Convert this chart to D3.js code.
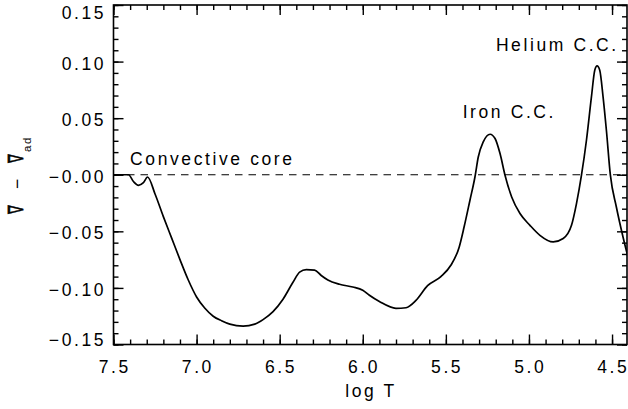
<!DOCTYPE html>
<html>
<head>
<meta charset="utf-8">
<script src="https://cdn.jsdelivr.net/npm/d3@7"></script>
<style>
  html, body { margin: 0; padding: 0; background: #fff; }
  svg { display: block; }
  text { font-family: "Liberation Sans", Arial, sans-serif; fill: #000; }
</style>
</head>
<body>
<svg id="chart" width="628" height="409"></svg>
<script>
// Superadiabatic gradient profile through the stellar model
const logT = [7.50, 7.41, 7.38, 7.35, 7.32, 7.295, 7.25, 7.20, 7.15, 7.10, 7.05, 7.00,
  6.95, 6.90, 6.85, 6.80, 6.72, 6.65, 6.60, 6.54, 6.48, 6.42, 6.38, 6.34, 6.29, 6.25,
  6.21, 6.14, 6.06, 6.00, 5.96, 5.90, 5.80, 5.74, 5.68, 5.61, 5.53, 5.47, 5.42, 5.39,
  5.355, 5.325, 5.305, 5.275, 5.234, 5.204, 5.174, 5.144, 5.104, 5.054, 4.994, 4.934,
  4.854, 4.794, 4.744, 4.714, 4.684, 4.654, 4.624, 4.604, 4.590, 4.574, 4.554, 4.534,
  4.510, 4.474, 4.434, 4.40];
const dGrad = [0.000, 0.000, -0.006, -0.0093, -0.007, -0.002, -0.017, -0.037, -0.056,
  -0.075, -0.093, -0.108, -0.118, -0.125, -0.129, -0.132, -0.1337, -0.132, -0.128,
  -0.121, -0.110, -0.095, -0.086, -0.0838, -0.0842, -0.089, -0.093, -0.0968, -0.0992,
  -0.102, -0.1065, -0.112, -0.118, -0.1175, -0.111, -0.098, -0.090, -0.080, -0.064,
  -0.046, -0.0225, -0.002, 0.0157, 0.029, 0.0358, 0.032, 0.0187, -0.0004, -0.0196,
  -0.0343, -0.0447, -0.0535, -0.0594, -0.0564, -0.0447, -0.0255, -0.0004, 0.0305,
  0.0688, 0.0924, 0.0962, 0.0924, 0.0688, 0.0393, -0.0004, -0.0285, -0.055, -0.075];

// Axis ticks and labels
const xMajor = [7.5, 7.0, 6.5, 6.0, 5.5, 5.0, 4.5];
const xMajorLabels = ["7.5", "7.0", "6.5", "6.0", "5.5", "5.0", "4.5"];
const xMinor = d3.range(75, 44, -1).map(d => d / 10);
const yMajor = [-0.15, -0.10, -0.05, 0.00, 0.05, 0.10, 0.15];
const yMajorLabels = ["\u22120.15", "\u22120.10", "\u22120.05", "\u22120.00", "0.05", "0.10", "0.15"];
const yMinor = d3.range(-15, 16, 1).map(d => d / 100);

// Region annotations
const notes = [
  { T: 7.40, v: 0.0086, text: "Convective core" },
  { T: 5.399, v: 0.0499, text: "Iron C.C." },
  { T: 5.199, v: 0.1096, text: "Helium C.C." }
];

const frame = { left: 113.5, right: 627, top: 5, bottom: 344.5 };
const svg = d3.select("#chart");

const x = d3.scaleLinear().domain([7.5, 4.41]).range([frame.left, frame.right]);
const y = d3.scaleLinear().domain([-0.15, 0.15]).range([frame.bottom, frame.top]);

const FS = 17.5, LS = 2.6;

svg.append("defs").append("clipPath").attr("id", "plotclip")
  .append("rect")
  .attr("x", frame.left).attr("y", frame.top)
  .attr("width", frame.right - frame.left).attr("height", frame.bottom - frame.top);

// Zero reference line
svg.append("line")
  .attr("x1", frame.left).attr("x2", frame.right)
  .attr("y1", y(0)).attr("y2", y(0))
  .attr("stroke", "#000").attr("stroke-width", 1.1)
  .attr("stroke-dasharray", "7.5,6");

// Profile curve
const line = d3.line()
  .x((d, i) => x(logT[i]))
  .y(d => y(d))
  .curve(d3.curveMonotoneX);

svg.append("path")
  .datum(dGrad)
  .attr("clip-path", "url(#plotclip)")
  .attr("d", line)
  .attr("fill", "none")
  .attr("stroke", "#000")
  .attr("stroke-width", 1.7)
  .attr("stroke-linejoin", "round");

// Tick marks on all four sides, pointing inward
function ticks(axisGen, transform, values, size) {
  const g = svg.append("g").attr("transform", transform)
    .call(axisGen.tickValues(values).tickSize(size).tickSizeOuter(0).tickFormat(""));
  g.select(".domain").remove();
  g.selectAll(".tick line").attr("stroke", "#000").attr("stroke-width", 1.4);
  return g;
}
ticks(d3.axisBottom(x), `translate(0,${frame.bottom})`, xMinor, -5);
ticks(d3.axisBottom(x), `translate(0,${frame.bottom})`, xMajor, -10);
ticks(d3.axisTop(x), `translate(0,${frame.top})`, xMinor, -5);
ticks(d3.axisTop(x), `translate(0,${frame.top})`, xMajor, -10);
ticks(d3.axisLeft(y), `translate(${frame.left},0)`, yMinor, -5);
ticks(d3.axisLeft(y), `translate(${frame.left},0)`, yMajor, -10);
ticks(d3.axisRight(y), `translate(${frame.right},0)`, yMinor, -5);
ticks(d3.axisRight(y), `translate(${frame.right},0)`, yMajor, -10);

// Frame
svg.append("rect")
  .attr("x", frame.left).attr("y", frame.top)
  .attr("width", frame.right - frame.left).attr("height", frame.bottom - frame.top)
  .attr("fill", "none").attr("stroke", "#000").attr("stroke-width", 1.6);

// Tick labels
svg.append("g").selectAll("text").data(xMajor).join("text")
  .attr("x", d => x(d) + LS / 2)
  .attr("y", frame.bottom + 28.5)
  .attr("text-anchor", "middle")
  .attr("font-size", FS).attr("letter-spacing", LS)
  .text((d, i) => xMajorLabels[i]);

svg.append("g").selectAll("text").data(yMajor).join("text")
  .attr("x", frame.left - 10 + LS)
  .attr("y", d => Math.min(Math.max(y(d) + 1.8, 13), frame.bottom - 5))
  .attr("dy", "0.36em")
  .attr("text-anchor", "end")
  .attr("font-size", FS).attr("letter-spacing", LS)
  .text((d, i) => yMajorLabels[i]);

// Axis titles
svg.append("text")
  .attr("x", 371)
  .attr("y", 396.5)
  .attr("text-anchor", "middle")
  .attr("font-size", FS).attr("letter-spacing", LS)
  .text("log T");

const yt = svg.append("g").attr("transform", "translate(23,213) rotate(-90)");
const nab = 0.62;
const nabFont = "'DejaVu Sans', sans-serif";
function nabla(pos) {
  yt.append("text").attr("transform", `scale(${nab},1)`).attr("x", pos / nab)
    .style("font-family", nabFont).attr("font-size", 21)
    .attr("stroke", "#000").attr("stroke-width", 0.7)
    .text("\u2207");
}
nabla(-1);
yt.append("text").attr("x", 24).attr("font-size", FS).text("\u2212");
nabla(50);
yt.append("text").attr("x", 61).attr("y", 8).attr("font-size", 11.5)
  .attr("letter-spacing", 1.5).text("ad");

// Annotations
svg.append("g").selectAll("text").data(notes).join("text")
  .attr("x", d => x(d.T))
  .attr("y", d => y(d.v))
  .attr("font-size", FS).attr("letter-spacing", LS)
  .text(d => d.text);
</script>
</body>
</html>
